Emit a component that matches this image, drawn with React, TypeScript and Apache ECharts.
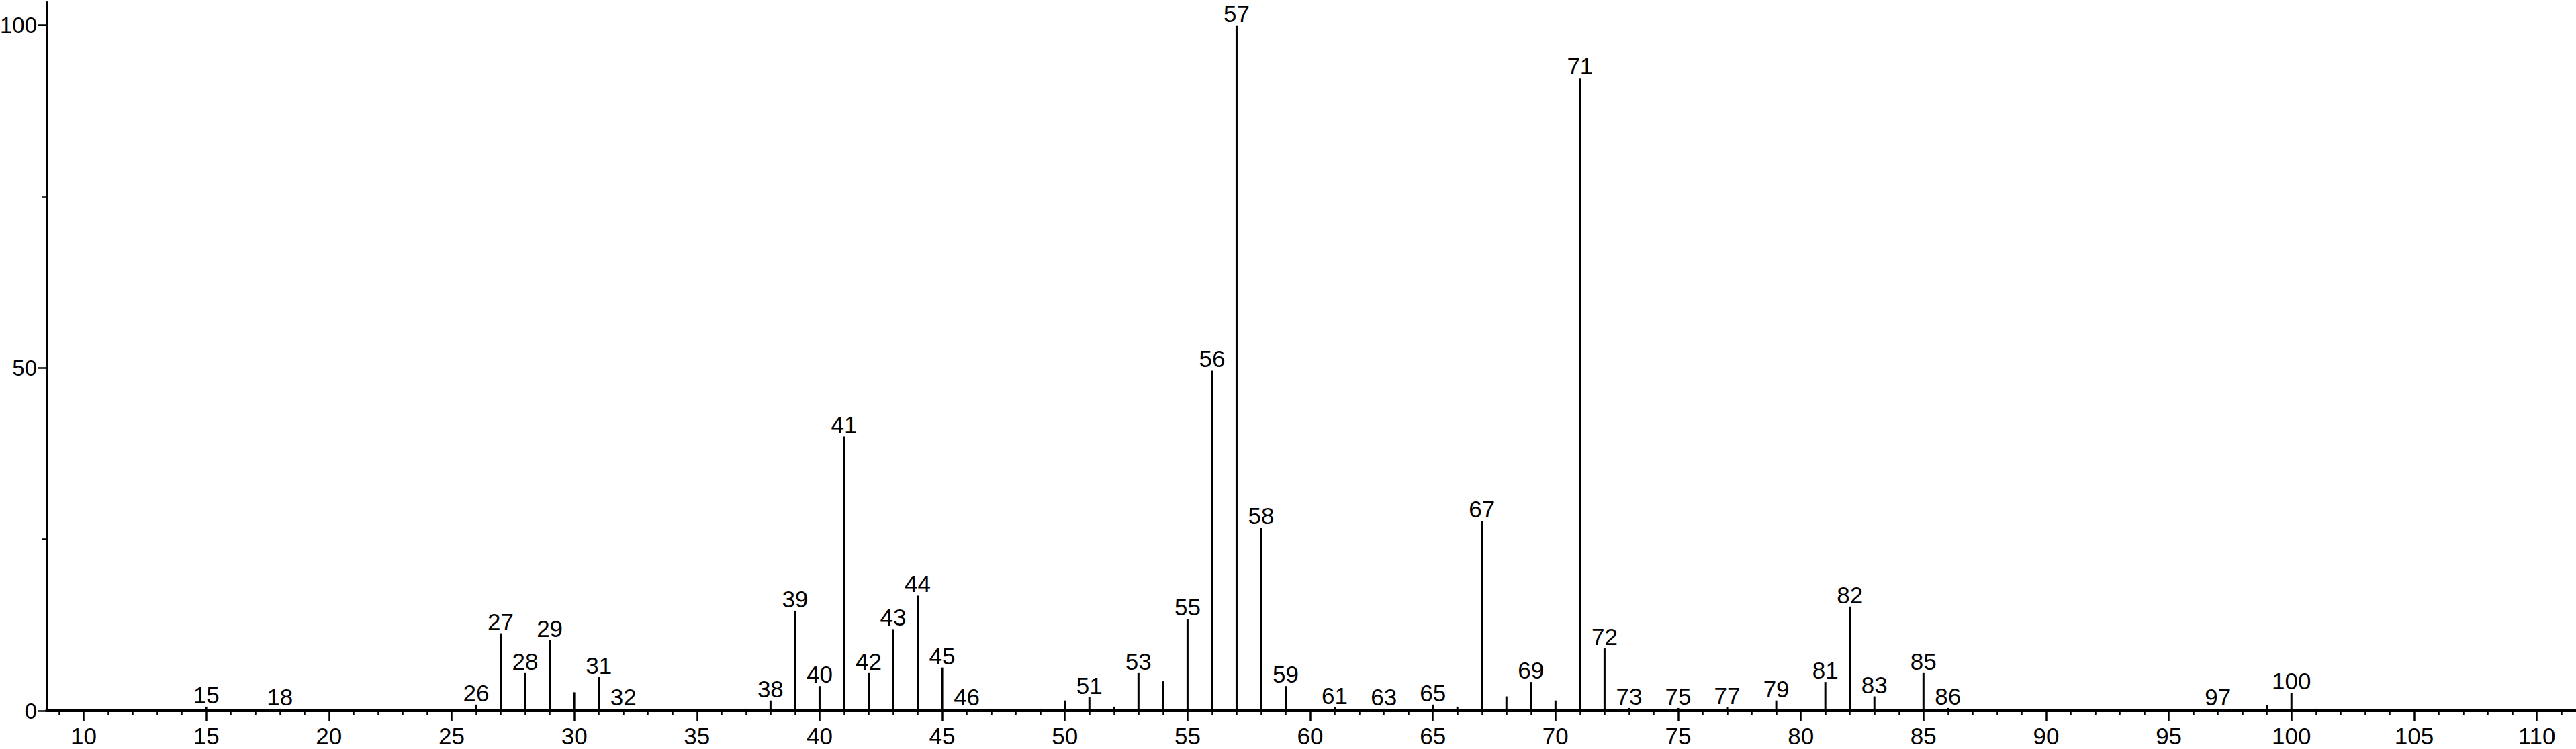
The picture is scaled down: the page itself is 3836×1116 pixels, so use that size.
import React, { useEffect, useRef } from "react";
import * as echarts from "echarts";

const mz = [15, 18, 26, 27, 28, 29, 30, 31, 32, 37, 38, 39, 40, 41, 42, 43, 44, 45, 46, 47, 49, 50, 51, 52, 53, 54, 55, 56, 57, 58, 59, 61, 63, 65, 66, 67, 68, 69, 70, 71, 72, 73, 75, 77, 79, 81, 82, 83, 85, 86, 97, 98, 99, 100, 101];
const intensity = [0.6, 0.3, 0.9, 11.3, 5.5, 10.3, 2.7, 4.9, 0.3, 0.3, 1.5, 14.6, 3.6, 40.0, 5.5, 11.9, 16.8, 6.3, 0.3, 0.3, 0.3, 1.5, 2.0, 0.6, 5.5, 4.3, 13.4, 49.6, 100, 26.7, 3.6, 0.5, 0.3, 0.9, 0.6, 27.7, 2.1, 4.2, 1.5, 92.3, 9.1, 0.4, 0.4, 0.5, 1.5, 4.2, 15.2, 2.1, 5.5, 0.4, 0.3, 0.3, 0.8, 2.6, 0.3];
const labeledPeaks = [15, 18, 26, 27, 28, 29, 31, 32, 38, 39, 40, 41, 42, 43, 44, 45, 46, 51, 53, 55, 56, 57, 58, 59, 61, 63, 65, 67, 69, 71, 72, 73, 75, 77, 79, 81, 82, 83, 85, 86, 97, 100];
const xMajorTicks = [10, 15, 20, 25, 30, 35, 40, 45, 50, 55, 60, 65, 70, 75, 80, 85, 90, 95, 100, 105, 110];
const xMinorTicks = [9, 11, 12, 13, 14, 16, 17, 18, 19, 21, 22, 23, 24, 26, 27, 28, 29, 31, 32, 33, 34, 36, 37, 38, 39, 41, 42, 43, 44, 46, 47, 48, 49, 51, 52, 53, 54, 56, 57, 58, 59, 61, 62, 63, 64, 66, 67, 68, 69, 71, 72, 73, 74, 76, 77, 78, 79, 81, 82, 83, 84, 86, 87, 88, 89, 91, 92, 93, 94, 96, 97, 98, 99, 101, 102, 103, 104, 106, 107, 108, 109, 111];
const yMajorTicks = [0, 50, 100];
const yMinorTicks = [25, 75];

const X_MIN = 8.48;
const X_MAX = 111.6;
const Y_MAX = 103.4;
const FONT = "'Liberation Sans', Arial, Helvetica, sans-serif";

export default function App() {
  const ref = useRef<HTMLDivElement>(null);
  useEffect(() => {
    if (!ref.current) return;
    const chart = echarts.init(ref.current, null, { renderer: "svg" });
    const axisBase = { min: X_MIN, max: X_MAX, type: "value" as const, splitLine: { show: false } };
    chart.setOption({
      animation: false,
      backgroundColor: "#ffffff",
      grid: { left: 69, right: 0, top: 3, bottom: 57, containLabel: false, outerBoundsMode: "none" },
      xAxis: [
        {
          ...axisBase,
          position: "bottom",
          axisLine: { show: true, onZero: false, lineStyle: { color: "#000", width: 4 } },
          axisTick: { show: true, customValues: xMajorTicks, length: 15, lineStyle: { color: "#000", width: 2.5 } },
          axisLabel: { show: true, customValues: xMajorTicks, margin: 20, color: "#000", fontFamily: FONT, fontSize: 35 },
        },
        {
          ...axisBase,
          position: "bottom",
          offset: 0,
          axisLine: { show: false, onZero: false },
          axisTick: { show: true, customValues: xMinorTicks, length: 6, lineStyle: { color: "#000", width: 2.5 } },
          axisLabel: { show: false },
        },
      ],
      yAxis: [
        {
          type: "value",
          min: 0,
          max: Y_MAX,
          position: "left",
          splitLine: { show: false },
          axisLine: { show: true, onZero: false, lineStyle: { color: "#000", width: 3 } },
          axisTick: { show: true, customValues: yMajorTicks, length: 12, lineStyle: { color: "#000", width: 2.5 } },
          axisLabel: { show: true, customValues: yMajorTicks, margin: 14, color: "#000", fontFamily: FONT, fontSize: 33 },
        },
        {
          type: "value",
          min: 0,
          max: Y_MAX,
          position: "left",
          offset: 0,
          splitLine: { show: false },
          axisLine: { show: false, onZero: false },
          axisTick: { show: true, customValues: yMinorTicks, length: 6, lineStyle: { color: "#000", width: 2.5 } },
          axisLabel: { show: false },
        },
      ],
      series: [
        {
          type: "bar",
          xAxisIndex: 0,
          yAxisIndex: 0,
          barWidth: 3,
          itemStyle: { color: "#000" },
          data: mz.map((m, i) => [m, intensity[i]]),
          label: {
            show: true,
            position: "top",
            distance: 0,
            color: "#000",
            fontFamily: FONT,
            fontSize: 35,
            formatter: (p: any) => (labeledPeaks.includes(p.value[0]) ? String(p.value[0]) : ""),
          },
        },
      ],
    });
    return () => chart.dispose();
  }, []);
  return <div ref={ref} style={{ position: "fixed", left: 0, top: 0, width: 3836, height: 1116, background: "#fff" }} />;
}
